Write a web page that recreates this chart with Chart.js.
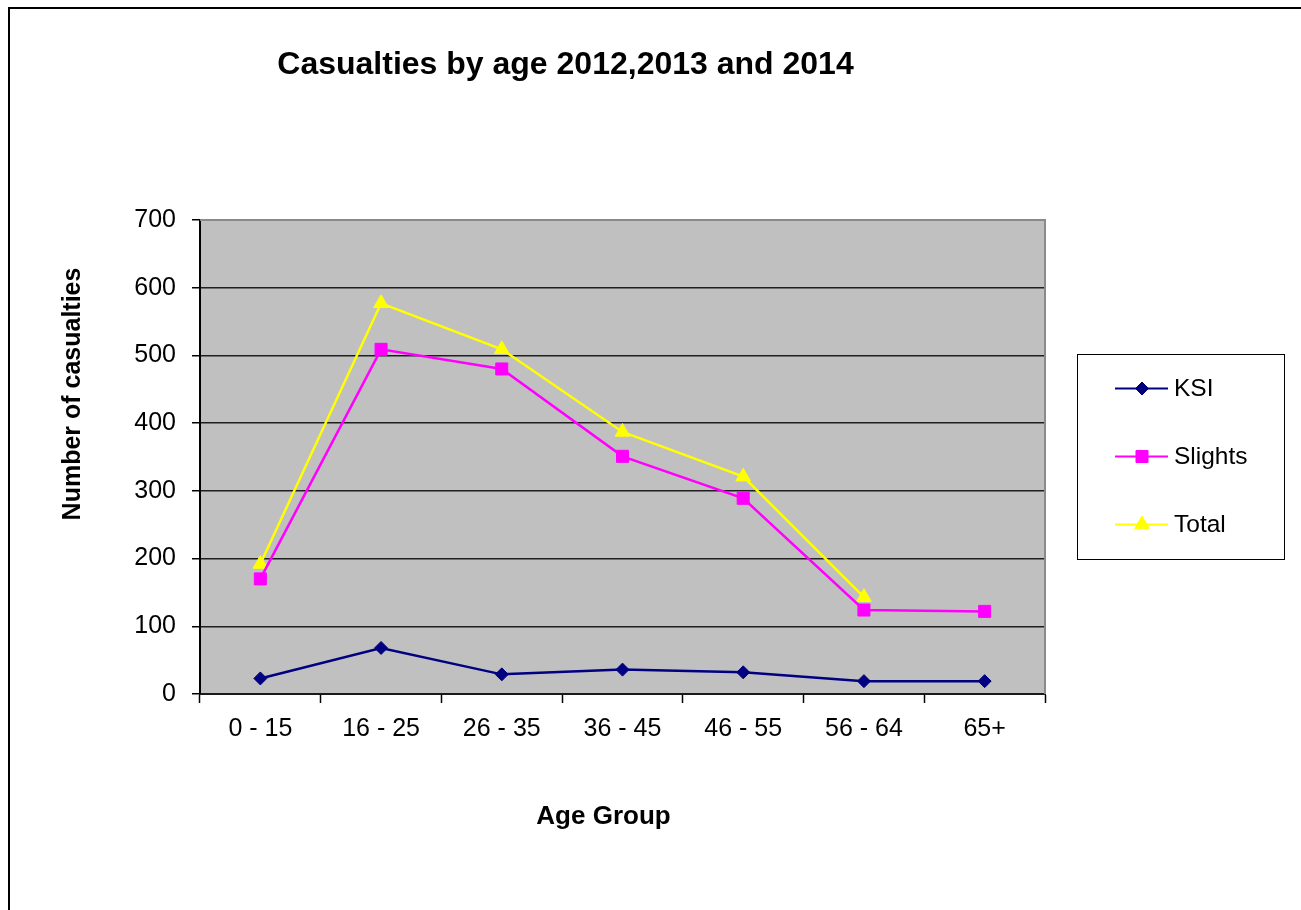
<!DOCTYPE html>
<html>
<head>
<meta charset="utf-8">
<title>Casualties by age 2012,2013 and 2014</title>
<script src="https://cdn.jsdelivr.net/npm/chart.js@4.4.1/dist/chart.umd.min.js"></script>
<style>
  html, body { margin: 0; padding: 0; background: #ffffff; overflow: hidden; }
  #wrap { position: relative; width: 1301px; height: 910px; }
</style>
</head>
<body>
<div id="wrap"><canvas id="c" width="1301" height="910"></canvas></div>
<script>
// Age bands on the x axis
const categories = ['0 - 15', '16 - 25', '26 - 35', '36 - 45', '46 - 55', '56 - 64', '65+'];

// Casualty counts per age band
const ksi     = [23, 68, 29, 36, 32, 19, 19];
const slights = [170, 509, 480, 351, 289, 124, 122];
const total   = [192, 577, 509, 387, 321, 143, null];

// Value axis ticks
const yTicks = [0, 100, 200, 300, 400, 500, 600, 700];

const seriesNames = ['KSI', 'Slights', 'Total'];
const chartTitle = 'Casualties by age 2012,2013 and 2014';
const xTitle = 'Age Group';
const yTitle = 'Number of casualties';

const FONT = "'Liberation Sans', Arial, Helvetica, sans-serif";
const C_KSI = '#000080';
const C_SLIGHTS = '#ff00ff';
const C_TOTAL = '#ffff00';

// Grey plot background, grey top/right plot border
const plotBackground = {
  id: 'plotBackground',
  beforeDraw(chart) {
    const { ctx, chartArea: a } = chart;
    ctx.save();
    ctx.fillStyle = '#c0c0c0';
    ctx.fillRect(a.left, a.top, a.right - a.left, a.bottom - a.top);
    ctx.restore();
  },
  beforeDatasetsDraw(chart) {
    const { ctx, chartArea: a } = chart;
    ctx.save();
    ctx.strokeStyle = '#8a8a8a';
    ctx.lineWidth = 2;
    ctx.beginPath();
    ctx.moveTo(a.left, a.top);
    ctx.lineTo(a.right, a.top);
    ctx.lineTo(a.right, a.bottom);
    ctx.stroke();
    ctx.restore();
  }
};

// Titles, legend box and outer frame
const decorations = {
  id: 'decorations',
  afterDraw(chart) {
    const ctx = chart.ctx;
    ctx.save();

    // outer frame (top and left edges)
    ctx.strokeStyle = '#000000';
    ctx.lineWidth = 2;
    ctx.beginPath();
    ctx.moveTo(1301, 8);
    ctx.lineTo(9, 8);
    ctx.lineTo(9, 910);
    ctx.stroke();

    ctx.fillStyle = '#000000';

    // chart title
    ctx.font = 'bold 32px ' + FONT;
    ctx.textAlign = 'center';
    ctx.textBaseline = 'alphabetic';
    ctx.fillText(chartTitle, 565.5, 74);

    // x axis title
    ctx.font = 'bold 26px ' + FONT;
    ctx.fillText(xTitle, 603.5, 824);

    // y axis title
    ctx.font = 'bold 25px ' + FONT;
    ctx.save();
    ctx.translate(79.5, 394);
    ctx.rotate(-Math.PI / 2);
    ctx.fillText(yTitle, 0, 0);
    ctx.restore();

    // legend box
    ctx.strokeStyle = '#000000';
    ctx.lineWidth = 1;
    ctx.fillStyle = '#ffffff';
    ctx.fillRect(1077.5, 354.5, 207, 205);
    ctx.strokeRect(1077.5, 354.5, 207, 205);

    const rows = [388.5, 456.5, 524.5];
    chart.data.datasets.forEach((ds, i) => {
      const y = rows[i];
      ctx.strokeStyle = ds.borderColor;
      ctx.lineWidth = 2;
      ctx.beginPath();
      ctx.moveTo(1115, y);
      ctx.lineTo(1168, y);
      ctx.stroke();
      ctx.fillStyle = ds.borderColor;
      ctx.strokeStyle = ds.borderColor;
      ctx.lineWidth = 1;
      Chart.helpers.drawPoint(ctx, {
        pointStyle: ds.pointStyle,
        radius: ds.pointRadius,
        borderWidth: 1,
        rotation: 0
      }, 1142, y);
      ctx.fillStyle = '#000000';
      ctx.font = '24.5px ' + FONT;
      ctx.textAlign = 'left';
      ctx.textBaseline = 'middle';
      ctx.fillText(ds.label, 1174, y + 1);
    });

    ctx.restore();
  }
};

const makeSeries = (label, data, color, style, radius) => ({
  label,
  data,
  borderColor: color,
  backgroundColor: color,
  pointBackgroundColor: color,
  pointBorderColor: color,
  borderWidth: 2.5,
  pointBorderWidth: 1,
  pointStyle: style,
  pointRadius: radius,
  pointHoverRadius: radius,
  tension: 0,
  spanGaps: false,
  fill: false
});

new Chart(document.getElementById('c'), {
  type: 'line',
  data: {
    labels: categories,
    datasets: [
      makeSeries(seriesNames[0], ksi, C_KSI, 'rectRot', 6.5),
      makeSeries(seriesNames[1], slights, C_SLIGHTS, 'rect', 8.5),
      makeSeries(seriesNames[2], total, C_TOTAL, 'triangle', 8.5)
    ]
  },
  options: {
    responsive: false,
    animation: false,
    devicePixelRatio: 1,
    layout: { padding: { top: 220, right: 256, bottom: 0, left: 0 } },
    plugins: {
      legend: { display: false },
      title: { display: false },
      tooltip: { enabled: false }
    },
    scales: {
      x: {
        type: 'category',
        offset: true,
        afterFit(scale) { scale.height = 216; },
        grid: {
          drawOnChartArea: false,
          drawTicks: true,
          offset: true,
          tickLength: 9,
          tickWidth: 1.5,
          tickColor: '#000000'
        },
        border: { display: true, color: '#1a1a1a', width: 2 },
        ticks: {
          color: '#000000',
          font: { family: FONT, size: 25 },
          padding: 11,
          maxRotation: 0,
          autoSkip: false
        }
      },
      y: {
        min: 0,
        max: 700,
        afterFit(scale) { scale.width = 200; },
        afterBuildTicks(scale) { scale.ticks = yTicks.map(v => ({ value: v })); },
        grid: {
          color: ctx => (ctx.tick && ctx.tick.value === 700 ? 'rgba(0,0,0,0)' : '#1f1f1f'),
          lineWidth: 1.5,
          drawTicks: true,
          tickLength: 8,
          tickColor: '#000000',
          tickWidth: 1.5
        },
        border: { display: true, color: '#000000', width: 2 },
        ticks: {
          color: '#000000',
          font: { family: FONT, size: 25 },
          padding: 16
        }
      }
    }
  },
  plugins: [plotBackground, decorations]
});
</script>
</body>
</html>
